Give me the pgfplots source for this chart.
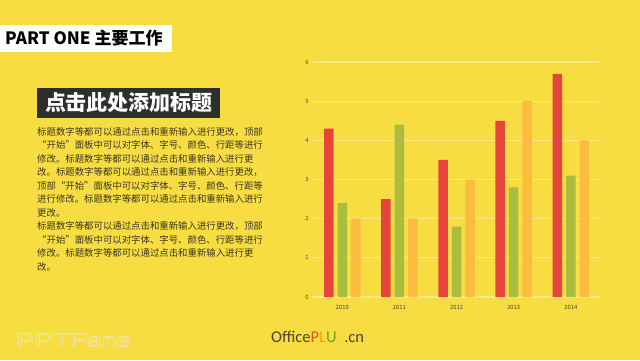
\documentclass[border=0pt]{standalone}
\usepackage{fontspec}
\usepackage{pgfplots}
\pgfplotsset{compat=1.18}
\setmainfont{Noto Sans CJK SC}
\newfontfamily\cjk{Noto Sans CJK SC}
\newfontfamily\ofont{Carlito}
\newfontfamily\pfont[FakeStretch=1.45]{Liberation Sans}
\definecolor{bg}{HTML}{F8DD42}
\definecolor{gridc}{HTML}{FBE982}
\definecolor{redc}{HTML}{E5453A}
\definecolor{greenc}{HTML}{AABD3E}
\definecolor{orangec}{HTML}{FBBC40}
\definecolor{tickc}{HTML}{4A4530}
\definecolor{bodyc}{HTML}{3A3624}
\definecolor{boxc}{HTML}{2E2E2C}
\definecolor{pc}{HTML}{E0561C}
\definecolor{lc}{HTML}{F2A20A}
\definecolor{uc}{HTML}{5FA91E}
\definecolor{sc}{HTML}{F7D63A}
\definecolor{ppt}{HTML}{EFE3A6}
\begin{document}
\begin{tikzpicture}[x=1pt,y=1pt]
\fill[bg] (0,0) rectangle (640,360);
% PART ONE box
\fill[white] (0,335) rectangle (172,308);
\node[anchor=west,inner sep=0,text=black,font=\fontsize{17}{18}\selectfont\bfseries] at (5,321.5) {PART ONE 主要工作};
% title box
\fill[boxc] (37,272) rectangle (220,242);
\node[text=white,inner sep=0,font=\fontsize{21}{24}\selectfont\bfseries] at (129,257) {点击此处添加标题};
% body
\node[anchor=north west,inner sep=0,align=left,text=bodyc,font=\fontsize{9.4}{13.5}\selectfont] at (37,233) {%
标题数字等都可以通过点击和重新输入进行更改，顶部\\
“开始”面板中可以对字体、字号、颜色、行距等进行\\
修改。标题数字等都可以通过点击和重新输入进行更\\
改。标题数字等都可以通过点击和重新输入进行更改，\\
顶部“开始”面板中可以对字体、字号、颜色、行距等\\
进行修改。标题数字等都可以通过点击和重新输入进行\\
更改。\\
标题数字等都可以通过点击和重新输入进行更改，顶部\\
“开始”面板中可以对字体、字号、颜色、行距等进行\\
修改。标题数字等都可以通过点击和重新输入进行更\\
改。};
% bottom
\node[anchor=west,inner sep=0,font=\fontsize{16.5}{17}\selectfont\ofont,text=tickc] at (271,23) {Office\textcolor{pc}{P}\textcolor{lc}{L}\textcolor{uc}{U}\textcolor{sc}{S}.cn};
\node[anchor=west,inner sep=0,font=\fontsize{19}{20}\selectfont\pfont,text=ppt] at (16,20) {\special{pdf:literal direct 1 Tr 0.8 w}PPTFans\special{pdf:literal direct 0 Tr}};
\begin{axis}[
  at={(312pt,63pt)}, anchor=south west,
  scale only axis, width=288pt, height=235pt,
  xmin=-0.53, xmax=4.51, ymin=0, ymax=6,
  ybar=4pt, bar width=9.5pt,
  xtick={0,1,2,3,4}, xticklabels={2010,2011,2012,2013,2014},
  ytick={0,1,2,3,4,5,6},
  axis line style={draw=none}, tick style={draw=none},
  ymajorgrids, grid style={color=gridc, line width=1.3pt},
  ticklabel style={font=\fontsize{5.8}{6}\selectfont, text=tickc},
  /pgf/number format/assume math mode=true,
  clip=false,
]
\addplot[fill=redc, draw=none] coordinates {(0,4.3) (1,2.5) (2,3.5) (3,4.5) (4,5.7)};
\addplot[fill=greenc, draw=none] coordinates {(0,2.4) (1,4.4) (2,1.8) (3,2.8) (4,3.1)};
\addplot[fill=orangec, draw=none] coordinates {(0,2.0) (1,2.0) (2,3.0) (3,5.0) (4,4.0)};
\end{axis}
\end{tikzpicture}
\end{document}
